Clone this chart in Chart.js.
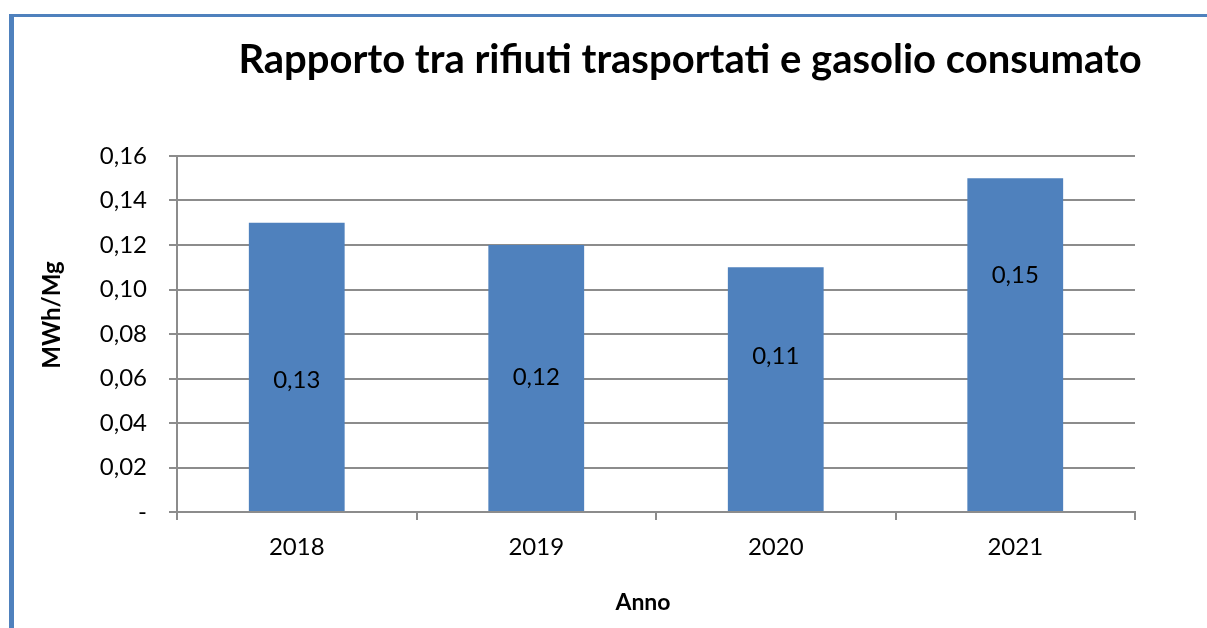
<!DOCTYPE html>
<html>
<head>
<meta charset="utf-8">
<script src="https://cdn.jsdelivr.net/npm/chart.js@4.4.1/dist/chart.umd.min.js"></script>
<style>
  html, body { margin: 0; padding: 0; background: #fff; }
  #wrap { position: relative; width: 1207px; height: 628px; overflow: hidden; }
  #frame { position: absolute; left: 9px; top: 14px; width: 1300px; height: 700px;
           border-left: 5px solid #4F81BD; border-top: 3px solid #4F81BD; }
  canvas { position: absolute; left: 0; top: 0; }
</style>
</head>
<body>
<div id="wrap">
  <div id="frame"></div>
  <canvas id="c" width="1207" height="628"></canvas>
</div>
<script>
const chartTitle = 'Rapporto tra rifiuti trasportati e gasolio consumato';
const yAxisTitle = 'MWh/Mg';
const xAxisTitle = 'Anno';
const categories = ['2018', '2019', '2020', '2021'];
const values = [0.13, 0.12, 0.11, 0.15];
const valueLabels = ['0,13', '0,12', '0,11', '0,15'];
const yTickLabels = ['-', '0,02', '0,04', '0,06', '0,08', '0,10', '0,12', '0,14', '0,16'];

const FONT = 'Lato';
const GRID = '#8c8c8c';

const labelAnchors = [0.0593, 0.0604, 0.0698, 0.1064];

const textPlugin = {
  id: 'texts',
  afterDatasetsDraw(chart) {
    const ctx = chart.ctx;
    const meta = chart.getDatasetMeta(0);
    const ys = chart.scales.y;
    ctx.save();
    ctx.fillStyle = '#000';
    ctx.font = '24px ' + FONT;
    ctx.textAlign = 'center';
    ctx.textBaseline = 'middle';
    meta.data.forEach((bar, i) => {
      ctx.fillText(valueLabels[i], bar.x, ys.getPixelForValue(labelAnchors[i]));
    });
    ctx.restore();
  },
  afterDraw(chart) {
    const ctx = chart.ctx;
    ctx.save();
    ctx.fillStyle = '#000';
    ctx.textAlign = 'center';
    ctx.textBaseline = 'middle';
    ctx.font = 'bold 40px ' + FONT;
    ctx.fillText(chartTitle, 690, 60);
    ctx.font = 'bold 23px ' + FONT;
    ctx.fillText(xAxisTitle, 643, 603);
    ctx.font = 'bold 24px ' + FONT;
    ctx.translate(52, 315);
    ctx.rotate(-Math.PI / 2);
    ctx.fillText(yAxisTitle, 0, 0);
    ctx.restore();
  }
};

Chart.defaults.font.family = FONT;
Chart.defaults.color = '#000';

new Chart(document.getElementById('c'), {
  type: 'bar',
  data: {
    labels: categories,
    datasets: [{
      data: values,
      backgroundColor: '#4F81BD',
      borderWidth: 0,
      categoryPercentage: 1.0,
      barPercentage: 0.4
    }]
  },
  options: {
    responsive: false,
    animation: false,
    devicePixelRatio: 1,
    layout: { padding: { left: 0, top: 156, right: 72, bottom: 0 } },
    plugins: { legend: { display: false }, tooltip: { enabled: false }, title: { display: false } },
    scales: {
      x: {
        offset: true,
        grid: { display: true, offset: true, drawOnChartArea: false, drawTicks: true, tickLength: 8, color: GRID, lineWidth: 2 },
        border: { display: true, color: GRID, width: 2 },
        ticks: { font: { size: 24 }, padding: 13, color: '#000' },
        afterFit(scale) { scale.height = 116; }
      },
      y: {
        min: 0, max: 0.16,
        ticks: {
          stepSize: 0.02,
          font: { size: 24 },
          padding: 22,
          color: '#000',
          callback: (v, i) => yTickLabels[i]
        },
        grid: { color: GRID, lineWidth: 2, tickLength: 8, drawTicks: true },
        border: { display: true, color: GRID, width: 2 },
        afterFit(scale) { scale.width = 177; }
      }
    }
  },
  plugins: [textPlugin]
});
</script>
</body>
</html>
